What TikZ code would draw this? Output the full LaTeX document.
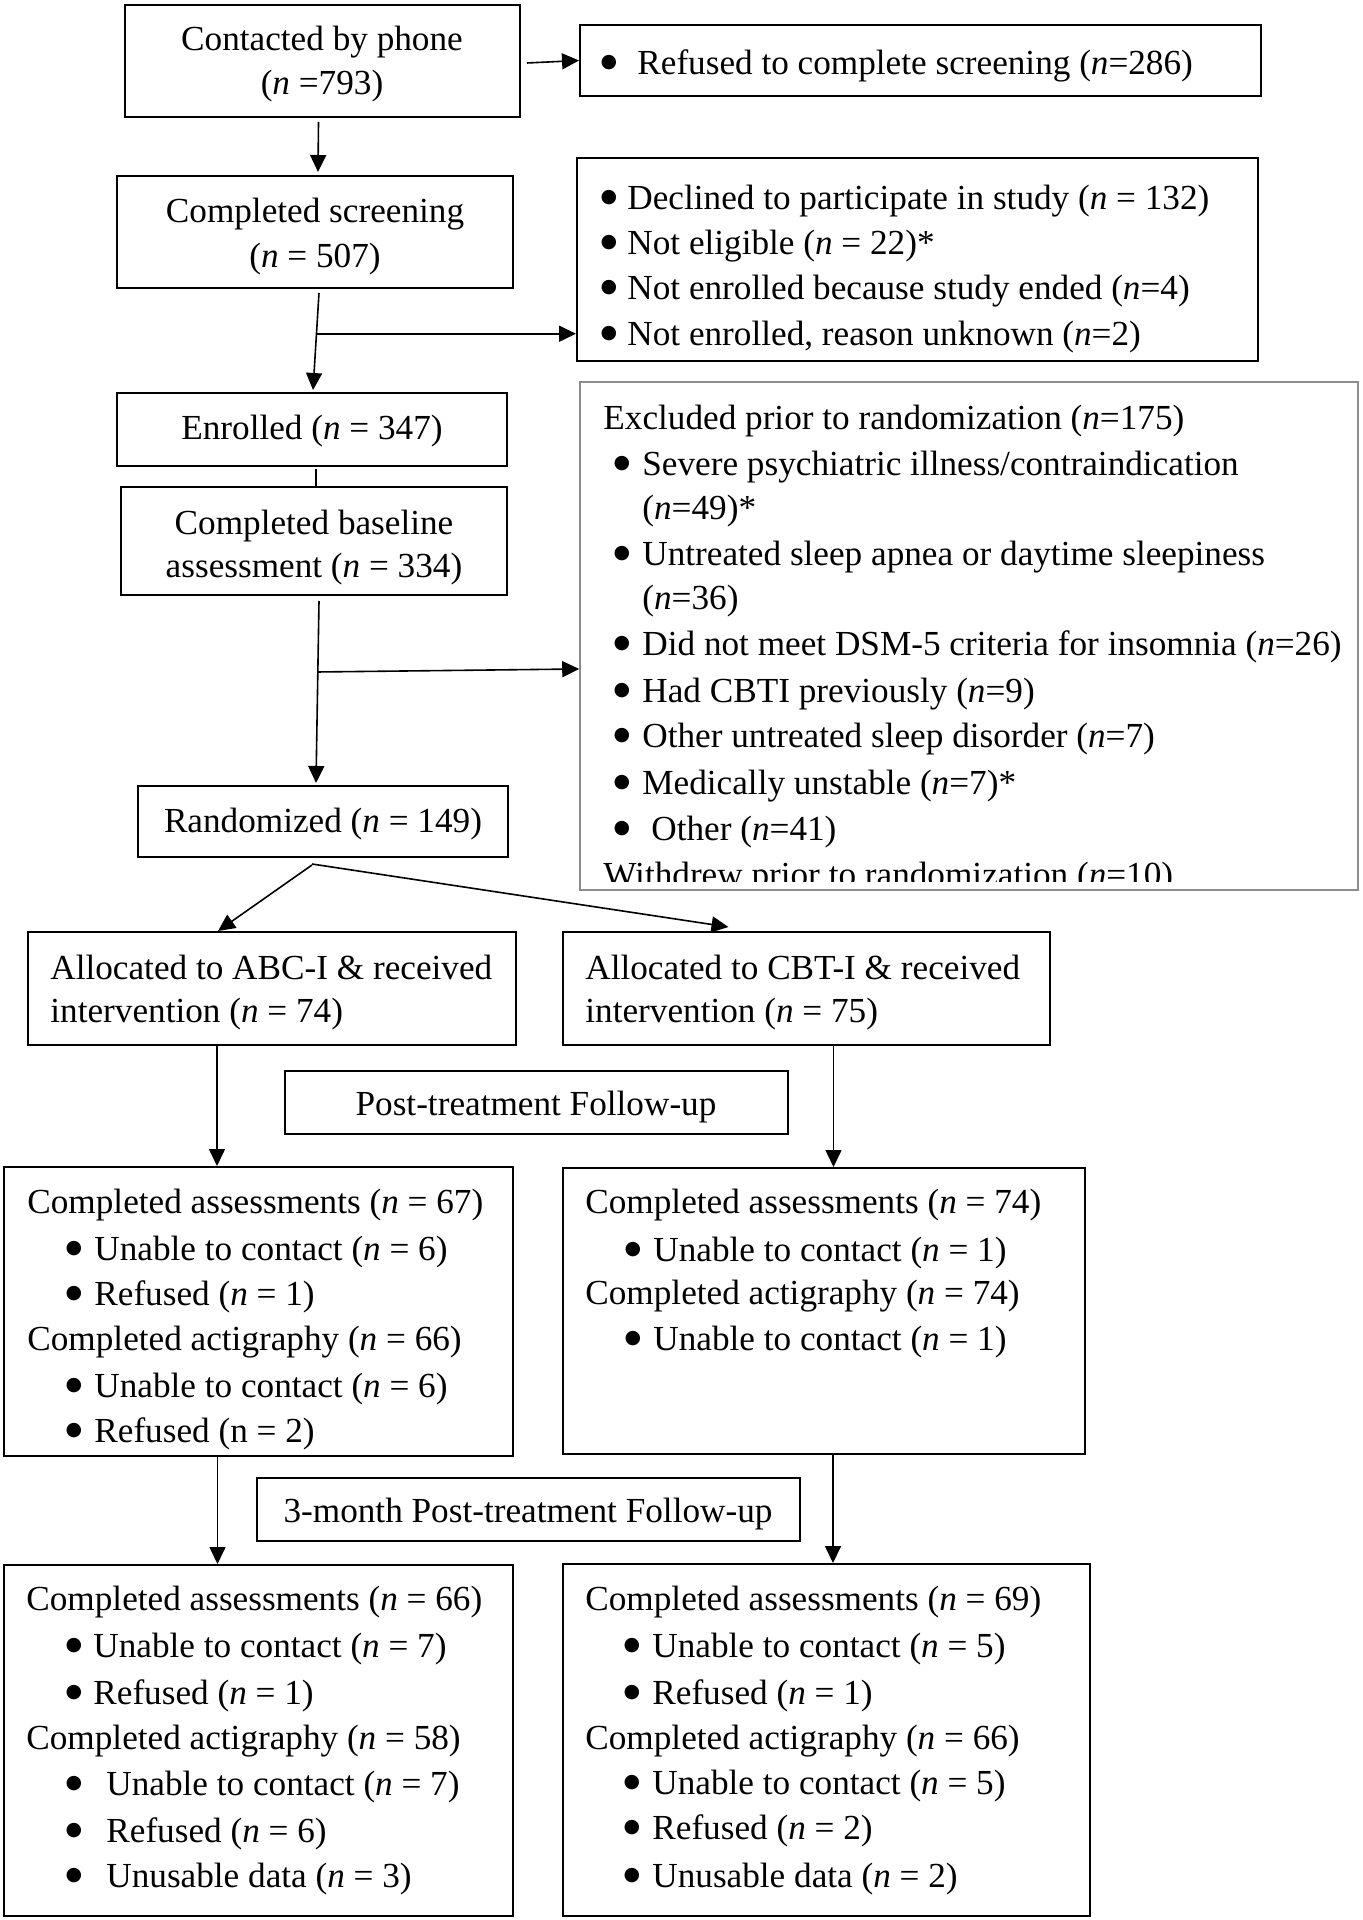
\documentclass[tikz,border=0pt]{standalone}
\usepackage{fontspec}
\setmainfont{Liberation Serif}
\newfontfamily\bulfont{DejaVu Sans}
\usetikzlibrary{arrows.meta,fit,calc}
\newcommand{\bigbul}{{\bulfont\fontsize{9.5pt}{9.5pt}\selectfont\raisebox{3.3pt}{●}}}
\begin{document}
\begin{tikzpicture}[x=0.5pt,y=-0.5pt,
  box/.style={draw, line width=1pt, inner sep=0pt},
  greybox/.style={draw=black!45, line width=0.8pt, inner sep=0pt},
  txt/.style={inner sep=0pt, font=\fontsize{17.6pt}{23pt}\selectfont, text height=14.5pt, text depth=2pt},
  ltxt/.style={txt, anchor=west},
  ctxt/.style={txt, anchor=center},
  bul/.style={txt, anchor=center},
  conn/.style={line width=0.8pt},
  arr/.style={conn, -{Triangle[length=8.5pt,width=8pt]}},
]
\useasboundingbox[fill=white] (0,0) rectangle (1363,1920);

% ---------- boxes ----------
\node[box, fit={(125,5) (520,117)}] (A) {};
\node[box, fit={(580,25) (1261,96)}] (B) {};
\node[box, fit={(117,176) (513,288)}] (C) {};
\node[box, fit={(577,158) (1258,361)}] (D) {};
\node[box, fit={(117,393) (507,466)}] (E) {};
\node[box, fit={(121,487) (507,595)}] (F) {};
\node[box, fit={(138,786) (508,857)}] (G) {};
\node[greybox, fit={(580,382) (1358,890)}] (H) {};
\node[box, fit={(28,932) (516,1045)}] (I) {};
\node[box, fit={(563,932) (1050,1045)}] (J) {};
\node[box, fit={(285,1071) (788,1134)}] (K) {};
\node[box, fit={(4,1167) (513,1456)}] (L) {};
\node[box, fit={(563,1168) (1085,1454)}] (M) {};
\node[box, fit={(257,1478) (800,1541)}] (N) {};
\node[box, fit={(4,1565) (513,1916)}] (O) {};
\node[box, fit={(563,1564) (1090,1916)}] (P) {};

% ---------- texts ----------
\node[ctxt] (A1) at (322,38) {Contacted by phone};
\node[ctxt] (A2) at (322,82) {(\textit{n} =793)};

\node[bul] (Bb) at (609,62) {\bigbul};
\node[ltxt] (B1) at (637,62) {Refused to complete screening (\textit{n}=286)};

\node[ctxt] (C1) at (315,210) {Completed screening};
\node[ctxt] (C2) at (315,255) {(\textit{n} = 507)};

\node[bul] (Db1) at (609,197) {\bigbul};
\node[ltxt] (D1) at (627,197) {Declined to participate in study (\textit{n} = 132)};
\node[bul] (Db2) at (609,242) {\bigbul};
\node[ltxt] (D2) at (627,242) {Not eligible (\textit{n} = 22)*};
\node[bul] (Db3) at (609,287) {\bigbul};
\node[ltxt] (D3) at (627,287) {Not enrolled because study ended (\textit{n}=4)};
\node[bul] (Db4) at (609,333) {\bigbul};
\node[ltxt] (D4) at (627,333) {Not enrolled, reason unknown (\textit{n}=2)};

\node[ctxt] (E1) at (312,427) {Enrolled (\textit{n} = 347)};
\node[ctxt] (F1) at (314,522) {Completed baseline};
\node[ctxt] (F2) at (314,565) {assessment (\textit{n} = 334)};
\node[ctxt] (G1) at (323,820) {Randomized (\textit{n} = 149)};

\node[ltxt] (H0) at (603,417) {Excluded prior to randomization (\textit{n}=175)};
\node[bul] (Hb1) at (622,463) {\bigbul};
\node[ltxt] (H1) at (642,463) {Severe psychiatric illness/contraindication};
\node[ltxt] (H1b) at (642,507) {(\textit{n}=49)*};
\node[bul] (Hb2) at (622,553) {\bigbul};
\node[ltxt] (H2) at (642,553) {Untreated sleep apnea or daytime sleepiness};
\node[ltxt] (H2b) at (642,597) {(\textit{n}=36)};
\node[bul] (Hb3) at (622,643) {\bigbul};
\node[ltxt] (H3) at (642,643) {Did not meet DSM-5 criteria for insomnia (\textit{n}=26)};
\node[bul] (Hb4) at (622,690) {\bigbul};
\node[ltxt] (H4) at (642,690) {Had CBTI previously (\textit{n}=9)};
\node[bul] (Hb5) at (622,735) {\bigbul};
\node[ltxt] (H5) at (642,735) {Other untreated sleep disorder (\textit{n}=7)};
\node[bul] (Hb6) at (622,782) {\bigbul};
\node[ltxt] (H6) at (642,782) {Medically unstable (\textit{n}=7)*};
\node[bul] (Hb7) at (622,828) {\bigbul};
\node[ltxt] (H7) at (651,828) {Other (\textit{n}=41)};
\begin{scope}
  \clip (H.north west) rectangle ($(H.south east)+(0,-9)$);
  \node[ltxt] (H8) at (603,874) {Withdrew prior to randomization (\textit{n}=10)};
\end{scope}

\node[ltxt] (I1) at (50,967) {Allocated to ABC-I \& received};
\node[ltxt] (I2) at (50,1010) {intervention (\textit{n} = 74)};
\node[ltxt] (J1) at (585,967) {Allocated to CBT-I \& received};
\node[ltxt] (J2) at (585,1010) {intervention (\textit{n} = 75)};

\node[ctxt] (K1) at (536,1103) {Post-treatment Follow-up};

\node[ltxt] (L1) at (27,1201) {Completed assessments (\textit{n} = 67)};
\node[bul] (Lb2) at (74,1248) {\bigbul};
\node[ltxt] (L2) at (94,1248) {Unable to contact (\textit{n} = 6)};
\node[bul] (Lb3) at (74,1293) {\bigbul};
\node[ltxt] (L3) at (94,1293) {Refused (\textit{n} = 1)};
\node[ltxt] (L4) at (27,1338) {Completed actigraphy (\textit{n} = 66)};
\node[bul] (Lb5) at (74,1385) {\bigbul};
\node[ltxt] (L5) at (94,1385) {Unable to contact (\textit{n} = 6)};
\node[bul] (Lb6) at (74,1430) {\bigbul};
\node[ltxt] (L6) at (94,1430) {Refused (n = 2)};

\node[ltxt] (M1) at (585,1201) {Completed assessments (\textit{n} = 74)};
\node[bul] (Mb2) at (633,1249) {\bigbul};
\node[ltxt] (M2) at (653,1249) {Unable to contact (\textit{n} = 1)};
\node[ltxt] (M3) at (585,1292) {Completed actigraphy (\textit{n} = 74)};
\node[bul] (Mb4) at (633,1338) {\bigbul};
\node[ltxt] (M4) at (653,1338) {Unable to contact (\textit{n} = 1)};

\node[ctxt] (N1) at (528,1510) {3-month Post-treatment Follow-up};

\node[ltxt] (O1) at (26,1598) {Completed assessments (\textit{n} = 66)};
\node[bul] (Ob2) at (74,1645) {\bigbul};
\node[ltxt] (O2) at (93,1645) {Unable to contact (\textit{n} = 7)};
\node[bul] (Ob3) at (74,1692) {\bigbul};
\node[ltxt] (O3) at (93,1692) {Refused (\textit{n} = 1)};
\node[ltxt] (O4) at (26,1737) {Completed actigraphy (\textit{n} = 58)};
\node[bul] (Ob5) at (74,1783) {\bigbul};
\node[ltxt] (O5) at (106,1783) {Unable to contact (\textit{n} = 7)};
\node[bul] (Ob6) at (74,1830) {\bigbul};
\node[ltxt] (O6) at (106,1830) {Refused (\textit{n} = 6)};
\node[bul] (Ob7) at (74,1875) {\bigbul};
\node[ltxt] (O7) at (106,1875) {Unusable data (\textit{n} = 3)};

\node[ltxt] (P1) at (585,1598) {Completed assessments (\textit{n} = 69)};
\node[bul] (Pb2) at (632,1645) {\bigbul};
\node[ltxt] (P2) at (652,1645) {Unable to contact (\textit{n} = 5)};
\node[bul] (Pb3) at (632,1692) {\bigbul};
\node[ltxt] (P3) at (652,1692) {Refused (\textit{n} = 1)};
\node[ltxt] (P4) at (585,1737) {Completed actigraphy (\textit{n} = 66)};
\node[bul] (Pb5) at (632,1782) {\bigbul};
\node[ltxt] (P5) at (652,1782) {Unable to contact (\textit{n} = 5)};
\node[bul] (Pb6) at (632,1827) {\bigbul};
\node[ltxt] (P6) at (652,1827) {Refused (\textit{n} = 2)};
\node[bul] (Pb7) at (632,1875) {\bigbul};
\node[ltxt] (P7) at (652,1875) {Unusable data (\textit{n} = 2)};

% ---------- connectors ----------
\draw[arr] ($(A.east)+(6,2)$) -- (B.west);
\draw[arr] ($(A.south)+(-4,4)$) -- ($(C.north)+(3,-3)$);

\coordinate (c0) at ($(C.south)+(4,4)$);
\coordinate (e0) at ($(E.north)+(1,-2)$);
\coordinate (cb) at ($(c0)!0.42!(e0)$);
\draw[arr] (c0) -- (e0);
\draw[arr] (cb) -- (cb -| D.west);

\draw[conn] ($(E.south)+(4,2)$) -- ($(F.north)+(2,0)$);

\coordinate (f0) at ($(F.south)+(5,5)$);
\coordinate (g0) at ($(G.north)+(-7,-2)$);
\coordinate (fb) at ($(f0)!0.39!(g0)$);
\coordinate (hb) at (fb -| H.west);
\draw[arr] (f0) -- (g0);
\draw[arr] (fb) -- ($(hb)+(0,-3)$);

\draw[arr] ($(G.south)+(-11,7)$) -- ($(I.north)+(-54,0)$);
\draw[arr] ($(G.south)+(-11,6)$) -- ($(J.north)+(-78,-4)$);

\coordinate (i0) at ($(I.south)+(-55,0)$);
\coordinate (j0) at ($(J.south)+(27,0)$);
\coordinate (l0) at ($(L.south)+(-41,0)$);
\coordinate (m0) at ($(M.south)+(9,0)$);
\draw[arr] (i0) -- (i0 |- L.north);
\draw[arr] (j0) -- (j0 |- M.north);
\draw[arr] (l0) -- (l0 |- O.north);
\draw[arr] (m0) -- (m0 |- P.north);
\end{tikzpicture}
\end{document}
